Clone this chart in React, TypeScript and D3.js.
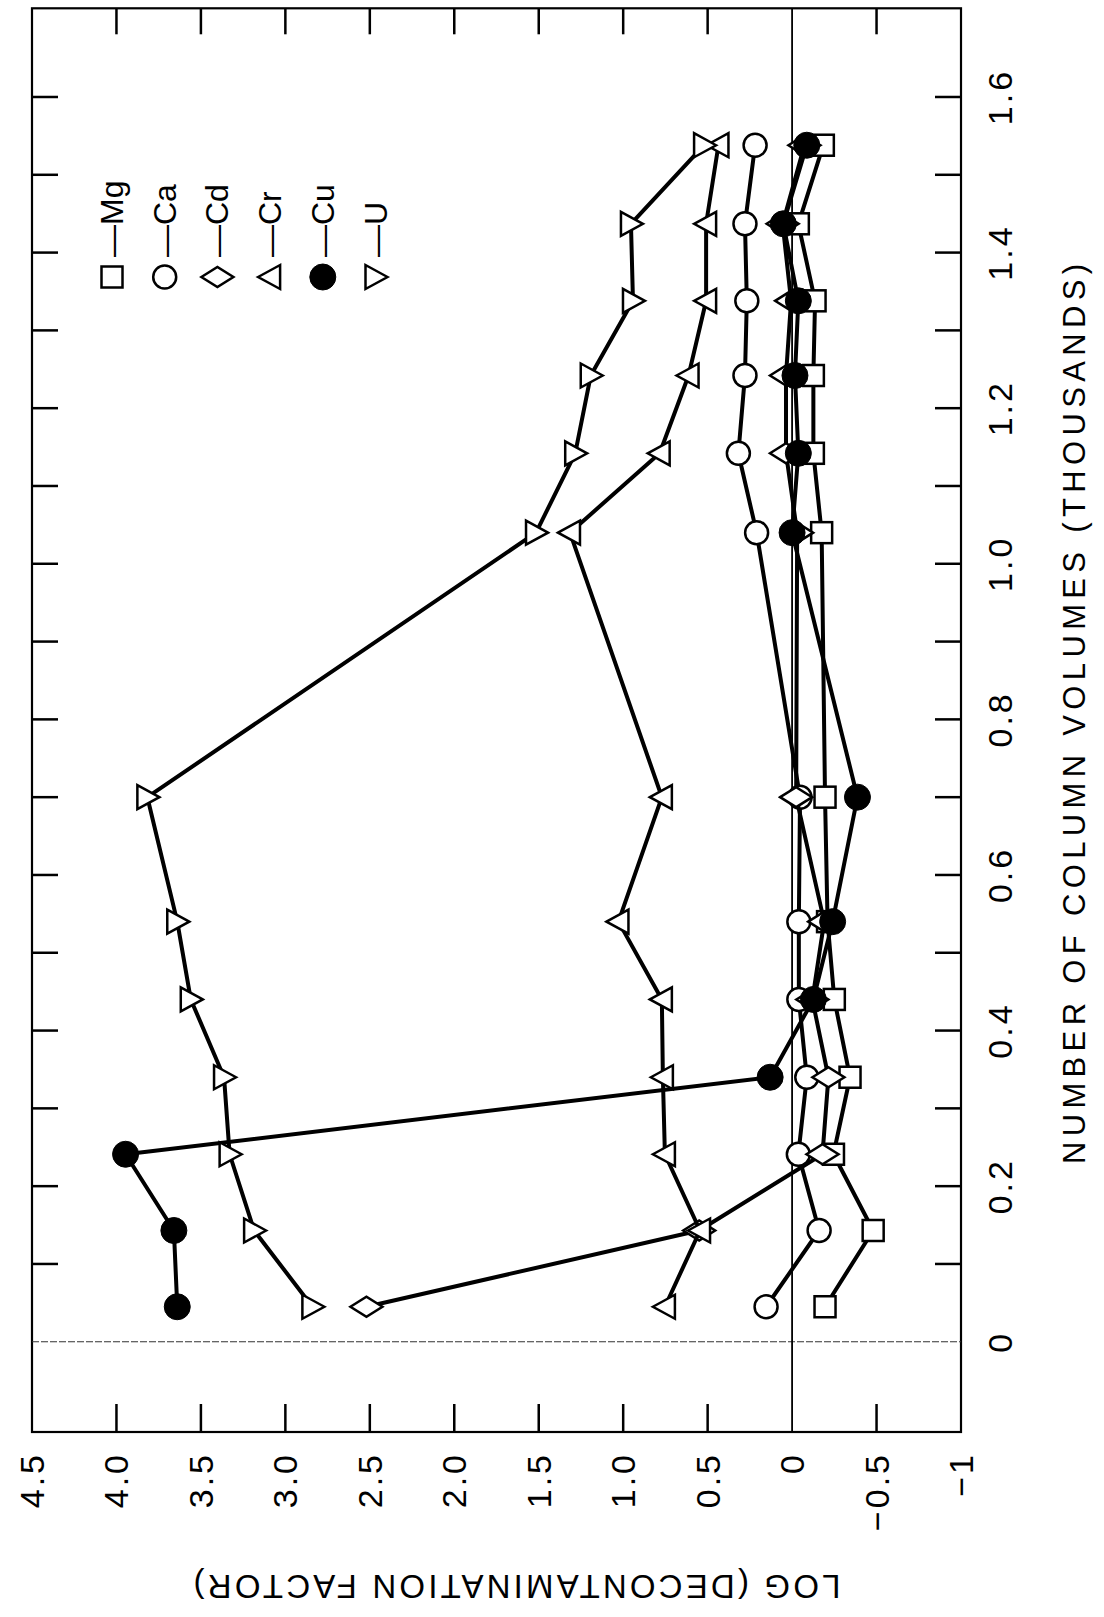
import * as React from 'react';
import * as d3 from 'd3';

// column volumes (thousands) shared by every series
const volumes = [0.045, 0.143, 0.241, 0.34, 0.44, 0.54, 0.7, 1.04, 1.142, 1.242, 1.338, 1.437, 1.538];

// log (decontamination factor)
const mg = [-0.195, -0.48, -0.245, -0.343, -0.25, -0.21, -0.195, -0.175, -0.126, -0.126, -0.136, -0.037, -0.185];
const ca = [0.154, -0.16, -0.037, -0.087, -0.04, -0.04, -0.047, 0.21, 0.318, 0.279, 0.268, 0.279, 0.219];
const cd = [2.52, 0.55, -0.18, -0.215, -0.12, -0.19, -0.024, -0.03, 0.036, 0.036, 0.006, 0.056, -0.073];
const cr = [0.753, 0.545, 0.753, 0.765, 0.771, 1.028, 0.771, 1.315, 0.784, 0.613, 0.509, 0.509, 0.436];
const cu = [3.64, 3.66, 3.946, 0.13, -0.126, -0.24, -0.387, 0.0, -0.037, -0.017, -0.037, 0.052, -0.087];
const u = [2.84, 3.185, 3.33, 3.363, 3.56, 3.64, 3.817, 1.516, 1.284, 1.192, 0.942, 0.954, 0.521];

const seriesNames = ['Mg', 'Ca', 'Cd', 'Cr', 'Cu', 'U'];
const seriesValues = [mg, ca, cd, cr, cu, u];
const seriesMarkers = ['square', 'circle', 'diamond', 'triUp', 'dot', 'triDown'];

const xTickLabels = ['0', '0.2', '0.4', '0.6', '0.8', '1.0', '1.2', '1.4', '1.6'];
const yTickValues = [4.5, 4, 3.5, 3, 2.5, 2, 1.5, 1, 0.5, 0, -0.5, -1];
const yTickLabels = ['4.5', '4.0', '3.5', '3.0', '2.5', '2.0', '1.5', '1.0', '0.5', '0', '\u22120.5', '\u22121'];

const FONT = '"Liberation Sans", Arial, sans-serif';

// the chart is laid out landscape, then turned a quarter turn counter-clockwise onto the page
const PAGE_H = 1617;

function Marker(props: any) {
    const { kind, cx, cy } = props;
    const st = { stroke: '#000', strokeWidth: 2.5, fill: '#fff' };
    if (kind === 'square') {
        return <rect x={cx - 10.5} y={cy - 10.5} width={21} height={21} {...st} />;
    }
    if (kind === 'circle') {
        return <circle cx={cx} cy={cy} r={11.5} {...st} />;
    }
    if (kind === 'dot') {
        return <circle cx={cx} cy={cy} r={13} fill="#000" stroke="#000" strokeWidth={1} />;
    }
    let d = '';
    if (kind === 'diamond') d = 'M0,-16L10,0L0,16L-10,0Z';
    if (kind === 'triUp') d = 'M0,-12L12,10L-12,10Z';
    if (kind === 'triDown') d = 'M0,12L12,-10L-12,-10Z';
    return <path d={d} transform={'translate(' + cx + ',' + cy + ')'} {...st} strokeLinejoin="miter" />;
}

export default function App() {
    let x = d3.scaleLinear().domain([-0.116, 1.714]).range([185, 1608.7]);
    let y = d3.scaleLinear().domain([4.5, -1]).range([32, 961]);
    let [x0, x1] = x.range();
    let [y0, y1] = y.range();

    let minorX = d3.range(1, 17).map(function(i) { return i / 10; });
    let innerY = yTickValues.filter(function(v) { return v < 4.5 && v > -1 && v !== 0; });

    let line = d3.line<number>()
        .x(function(d, i) { return x(volumes[i]); })
        .y(function(d) { return y(d); });

    return (
        <svg width={1104} height={1617} style={{ position: 'absolute', left: 0, top: 0, background: '#fff' }}>
            <rect width={1104} height={1617} fill="#fff" />
            <g transform={'matrix(0,-1,1,0,0,' + PAGE_H + ')'}>
                {/* frame */}
                <rect x={x0} y={y0} width={x1 - x0} height={y1 - y0} fill="none" stroke="#000" strokeWidth={2.2} />

                {/* reference lines */}
                <line x1={x(0)} x2={x(0)} y1={y0} y2={y1} stroke="#333" strokeWidth={1.2} strokeDasharray="7 2" />
                <line x1={x0} x2={x1} y1={y(0)} y2={y(0)} stroke="#000" strokeWidth={1.8} />

                {/* ticks */}
                {minorX.map(function(t) {
                    return (
                        <g key={'xt' + t}>
                            <line x1={x(t)} x2={x(t)} y1={y1} y2={y1 - 26} stroke="#000" strokeWidth={2.5} />
                            <line x1={x(t)} x2={x(t)} y1={y0} y2={y0 + 26} stroke="#000" strokeWidth={2.5} />
                        </g>
                    );
                })}
                {innerY.map(function(v) {
                    return (
                        <g key={'yt' + v}>
                            <line x1={x0} x2={x0 + 28} y1={y(v)} y2={y(v)} stroke="#000" strokeWidth={2.5} />
                            <line x1={x1} x2={x1 - 26} y1={y(v)} y2={y(v)} stroke="#000" strokeWidth={2.5} />
                        </g>
                    );
                })}

                {/* tick labels */}
                {xTickLabels.map(function(s, i) {
                    return (
                        <text key={'xl' + s} x={x(i * 0.2)} y={1000} textAnchor="middle" dominantBaseline="central"
                            fontFamily={FONT} fontSize={34} letterSpacing={3}>{s}</text>
                    );
                })}
                {yTickValues.map(function(v, i) {
                    return (
                        <text key={'yl' + v} x={165} y={y(v)} textAnchor="end" dominantBaseline="central"
                            fontFamily={FONT} fontSize={34} letterSpacing={3}>{yTickLabels[i]}</text>
                    );
                })}

                {/* axis titles */}
                <text x={903} y={1074} textAnchor="middle" dominantBaseline="central" fontFamily={FONT} fontSize={31}
                    textLength={900} lengthAdjust="spacing">NUMBER OF COLUMN VOLUMES (THOUSANDS)</text>
                <text transform="translate(31,517) rotate(-90)" textAnchor="middle" dominantBaseline="central"
                    fontFamily={FONT} fontSize={33} textLength={647} lengthAdjust="spacing">LOG (DECONTAMINATION FACTOR)</text>

                {/* series */}
                {seriesValues.map(function(vals, si) {
                    return (
                        <g key={'s' + si}>
                            <path d={line(vals) || ''} fill="none" stroke="#000" strokeWidth={4} strokeLinejoin="round" />
                            {vals.map(function(v, i) {
                                return <Marker key={i} kind={seriesMarkers[si]} cx={x(volumes[i])} cy={y(v)} />;
                            })}
                        </g>
                    );
                })}

                {/* legend */}
                {seriesNames.map(function(name, i) {
                    let ly = 112 + i * 52.7;
                    return (
                        <g key={'lg' + name}>
                            <Marker kind={seriesMarkers[i]} cx={1340} cy={ly} />
                            <text x={1360} y={ly} dominantBaseline="central" fontFamily={FONT} fontSize={32}>{'\u2014' + name}</text>
                        </g>
                    );
                })}
            </g>
        </svg>
    );
}
